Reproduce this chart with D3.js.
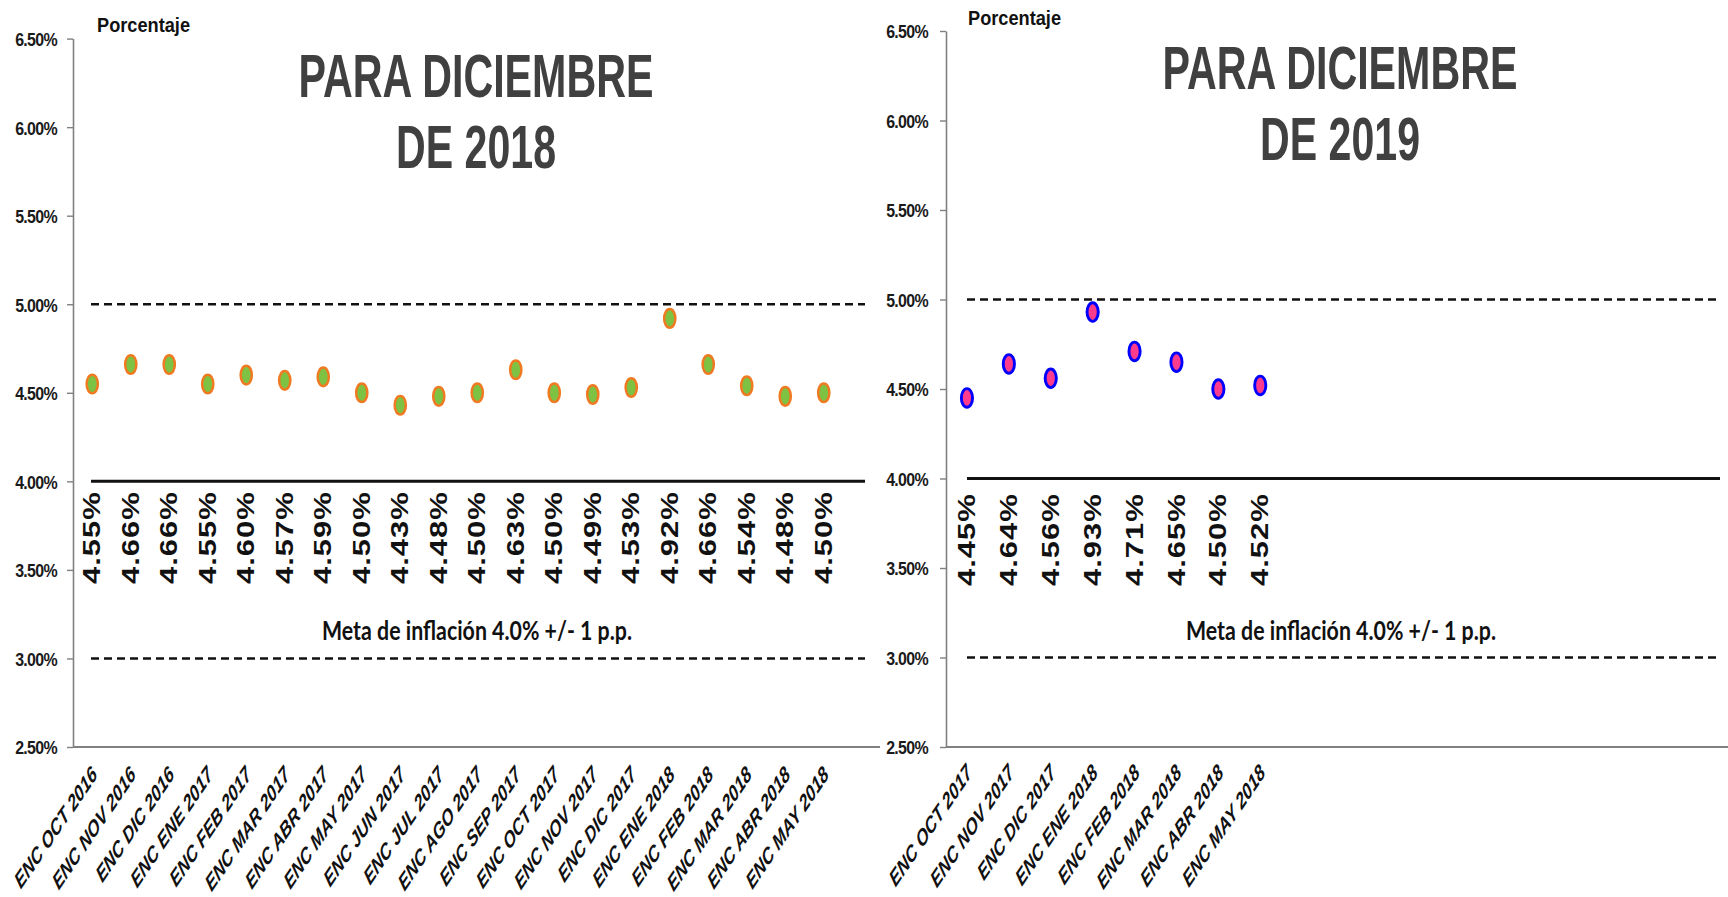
<!DOCTYPE html>
<html>
<head>
<meta charset="utf-8">
<script src="https://cdn.jsdelivr.net/npm/d3@7/dist/d3.min.js"></script>
<style>
  html, body { margin: 0; padding: 0; background: #fff; }
  svg { display: block; }
</style>
</head>
<body>
<svg id="chart" width="1728" height="897"></svg>
<script>
// Survey expectations of December inflation, one panel per target year.
const leftCategories = ["ENC OCT 2016","ENC NOV 2016","ENC DIC 2016","ENC ENE 2017","ENC FEB 2017",
  "ENC MAR 2017","ENC ABR 2017","ENC MAY 2017","ENC JUN 2017","ENC JUL 2017","ENC AGO 2017",
  "ENC SEP 2017","ENC OCT 2017","ENC NOV 2017","ENC DIC 2017","ENC ENE 2018","ENC FEB 2018",
  "ENC MAR 2018","ENC ABR 2018","ENC MAY 2018"];
const leftValues = [4.55,4.66,4.66,4.55,4.60,4.57,4.59,4.50,4.43,4.48,4.50,4.63,4.50,4.49,4.53,4.92,4.66,4.54,4.48,4.50];

const rightCategories = ["ENC OCT 2017","ENC NOV 2017","ENC DIC 2017","ENC ENE 2018",
  "ENC FEB 2018","ENC MAR 2018","ENC ABR 2018","ENC MAY 2018"];
const rightValues = [4.45,4.64,4.56,4.93,4.71,4.65,4.50,4.52];

const yTickValues = [2.5,3.0,3.5,4.0,4.5,5.0,5.5,6.0,6.5];
const targetBandLimits = [3.0,5.0];   // dashed
const targetCenter = [4.0];           // solid
const titleLines2018 = ["PARA DICIEMBRE","DE 2018"];
const titleLines2019 = ["PARA DICIEMBRE","DE 2019"];
const axisTitle = "Porcentaje";
const targetLabel = "Meta de inflación 4.0% +/- 1 p.p.";

const svg = d3.select("#chart");
svg.append("rect").attr("width",1728).attr("height",897).attr("fill","#fff");

const SQ = 0.68; // horizontal condensing applied to glyphs

function drawPanel(p) {
  const g = svg.append("g");
  const y = d3.scaleLinear().domain([2.5,6.5]).range([p.yBottom, p.yTop]);
  const x = d3.scaleBand().domain(p.categories)
      .range([p.axisX, p.axisX + p.step * p.categories.length]);

  // reference lines of the target band
  g.selectAll("line.band").data(targetBandLimits).join("line")
    .attr("x1", p.lineX0).attr("x2", p.lineX1)
    .attr("y1", d => y(d)).attr("y2", d => y(d))
    .attr("stroke", "#111").attr("stroke-width", 2.4).attr("stroke-dasharray", "8,5");
  g.selectAll("line.center").data(targetCenter).join("line")
    .attr("x1", p.lineX0).attr("x2", p.lineX1)
    .attr("y1", d => y(d)).attr("y2", d => y(d))
    .attr("stroke", "#111").attr("stroke-width", 3);

  // y axis
  const ax = g.append("g").attr("transform", `translate(${p.axisX},0)`)
    .call(d3.axisLeft(y).tickValues(yTickValues)
      .tickFormat(d => d.toFixed(2) + "%").tickSize(6).tickSizeOuter(0).tickPadding(0));
  ax.select(".domain").attr("stroke", "#808080").attr("stroke-width", 1.6);
  ax.selectAll(".tick line").attr("stroke", "#808080").attr("stroke-width", 1.4);
  ax.selectAll(".tick text")
    .attr("x", 0).attr("dy", "0.36em")
    .attr("transform", `translate(${p.tickLabelDx},0) scale(0.84,1)`)
    .attr("fill", "#1a1a1a")
    .style("font-family", "'Liberation Sans', Arial, sans-serif")
    .style("font-weight", "bold").style("font-size", "19px")
    .style("letter-spacing", "-0.8px");

  // x axis baseline
  g.append("line")
    .attr("x1", p.axisX).attr("x2", p.xAxisEnd)
    .attr("y1", y(2.5)).attr("y2", y(2.5))
    .attr("stroke", "#808080").attr("stroke-width", 2);

  // category labels
  g.selectAll("text.cat").data(p.categories).join("text")
    .attr("text-anchor", "end")
    .attr("transform", d => `translate(${x(d) + x.bandwidth()/2 + 6},${p.catY}) scale(${SQ},1) rotate(-45)`)
    .attr("fill", "#111")
    .style("font-family", "'Liberation Sans', Arial, sans-serif")
    .style("font-weight", "bold").style("font-style", "italic").style("font-size", "23px")
    .text(d => d);

  // value labels
  g.selectAll("text.val").data(p.values).join("text")
    .attr("text-anchor", "start").attr("dominant-baseline", "central")
    .attr("transform", (d,i) => `translate(${x(p.categories[i]) + x.bandwidth()/2},${p.valY}) scale(0.76,1) rotate(-90)`)
    .attr("fill", "#111")
    .style("font-family", "'Liberation Sans', Arial, sans-serif")
    .style("font-weight", "bold").style("font-size", "31px")
    .style("letter-spacing", "1px")
    .text(d => d.toFixed(2) + "%");

  // markers
  g.selectAll("ellipse.pt").data(p.values).join("ellipse")
    .attr("cx", (d,i) => x(p.categories[i]) + x.bandwidth()/2)
    .attr("cy", d => y(d))
    .attr("rx", 5.6).attr("ry", 9.3)
    .attr("fill", p.fill).attr("stroke", p.stroke).attr("stroke-width", p.strokeW);

  // titles
  g.selectAll("text.title").data(p.title).join("text")
    .attr("x", p.titleX).attr("y", (d,i) => p.titleY + i * 71)
    .attr("text-anchor", "middle")
    .attr("textLength", (d,i) => i === 0 ? 355 : 160)
    .attr("lengthAdjust", "spacingAndGlyphs")
    .attr("fill", "#404040")
    .style("font-family", "'Liberation Sans', Arial, sans-serif")
    .style("font-weight", "bold").style("font-size", "61px")
    .text(d => d);

  g.append("text")
    .attr("x", p.axisTitleX).attr("y", p.axisTitleY)
    .attr("textLength", 93).attr("lengthAdjust", "spacingAndGlyphs")
    .attr("fill", "#111")
    .style("font-family", "'Liberation Sans', Arial, sans-serif")
    .style("font-weight", "bold").style("font-size", "21px")
    .text(axisTitle);

  g.append("text")
    .attr("x", p.metaX).attr("y", 640)
    .attr("text-anchor", "middle")
    .attr("textLength", 310).attr("lengthAdjust", "spacingAndGlyphs")
    .attr("fill", "#111")
    .style("font-family", "Lato, 'Open Sans', sans-serif")
    .style("font-weight", "bold").style("font-size", "26px")
    .text(targetLabel);
}

drawPanel({
  categories: leftCategories, values: leftValues,
  axisX: 73, step: 38.5, yTop: 38.6, yBottom: 747,
  lineX0: 91, lineX1: 865, xAxisEnd: 880,
  tickLabelDx: -16, catY: 776, valY: 584,
  fill: "#7DC242", stroke: "#F07A22", strokeW: 2.5,
  title: titleLines2018, titleX: 476, titleY: 97,
  axisTitleX: 97, axisTitleY: 32, metaX: 477
});

drawPanel({
  categories: rightCategories, values: rightValues,
  axisX: 946, step: 41.9, yTop: 31, yBottom: 747,
  lineX0: 967, lineX1: 1720, xAxisEnd: 1728,
  tickLabelDx: -18, catY: 774, valY: 586,
  fill: "#FF3B8D", stroke: "#0000FF", strokeW: 2.9,
  title: titleLines2019, titleX: 1340, titleY: 89,
  axisTitleX: 968, axisTitleY: 25, metaX: 1341
});
</script>
</body>
</html>
